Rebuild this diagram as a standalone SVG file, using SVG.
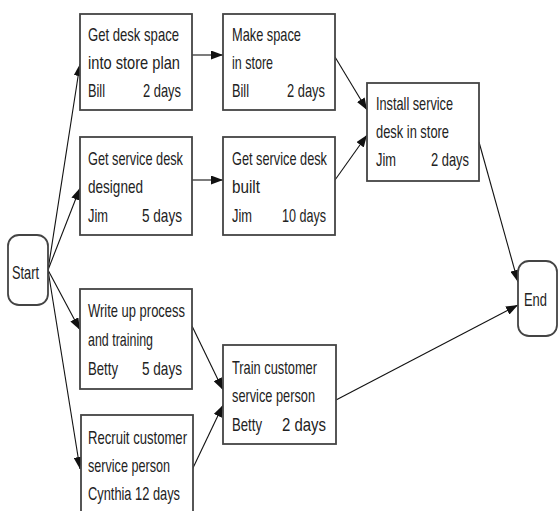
<svg xmlns="http://www.w3.org/2000/svg" width="558" height="511" viewBox="0 0 558 511">
<style>
.box{fill:#fff;stroke:#444;stroke-width:1.8}
.t{font-family:"Liberation Sans",Arial,sans-serif;font-size:19px;fill:#222}
.r{text-anchor:end}
.c{stroke:#111;stroke-width:1.1;fill:none;marker-end:url(#ah)}
</style>
<defs>
<marker id="ah" markerUnits="userSpaceOnUse" markerWidth="13" markerHeight="9" refX="12" refY="4.5" orient="auto">
<path d="M0,0 L12,4.5 L0,9 z" fill="#111"/>
</marker>
</defs>
<rect width="558" height="511" fill="#fff"/>
<g id="connectors">
<line class="c" x1="48" y1="270" x2="80" y2="64"/>
<line class="c" x1="48" y1="270" x2="80" y2="188"/>
<line class="c" x1="48" y1="270" x2="80" y2="330"/>
<line class="c" x1="48" y1="270" x2="80" y2="469"/>
<line class="c" x1="192" y1="55" x2="223" y2="55"/>
<line class="c" x1="192" y1="180" x2="223" y2="180"/>
<line class="c" x1="335" y1="57" x2="367" y2="110"/>
<line class="c" x1="335" y1="180" x2="367" y2="135"/>
<line class="c" x1="479" y1="142" x2="518" y2="282"/>
<line class="c" x1="192" y1="326" x2="223" y2="390"/>
<line class="c" x1="192" y1="470" x2="223" y2="405"/>
<line class="c" x1="336" y1="400" x2="518" y2="305"/>
</g>
<g id="start">
<rect class="box" x="8" y="235" width="40" height="70" rx="11"/>
<text class="t" x="12" y="279" textLength="27" lengthAdjust="spacingAndGlyphs">Start</text>
</g>
<g id="n1">
<rect class="box" x="80" y="14" width="112" height="96"/>
<text class="t" x="88" y="41" textLength="91" lengthAdjust="spacingAndGlyphs">Get desk space</text>
<text class="t" x="88" y="69" textLength="92" lengthAdjust="spacingAndGlyphs">into store plan</text>
<text class="t" x="88" y="97" textLength="17" lengthAdjust="spacingAndGlyphs">Bill</text>
<text class="t r" x="181" y="97" textLength="38" lengthAdjust="spacingAndGlyphs">2 days</text>
</g>
<g id="n2">
<rect class="box" x="80" y="137" width="112" height="98"/>
<text class="t" x="88" y="165" textLength="95" lengthAdjust="spacingAndGlyphs">Get service desk</text>
<text class="t" x="88" y="193" textLength="55" lengthAdjust="spacingAndGlyphs">designed</text>
<text class="t" x="88" y="222" textLength="20" lengthAdjust="spacingAndGlyphs">Jim</text>
<text class="t r" x="182" y="222" textLength="40" lengthAdjust="spacingAndGlyphs">5 days</text>
</g>
<g id="n3">
<rect class="box" x="223" y="14" width="112" height="96"/>
<text class="t" x="232" y="41" textLength="69" lengthAdjust="spacingAndGlyphs">Make space</text>
<text class="t" x="232" y="69" textLength="41" lengthAdjust="spacingAndGlyphs">in store</text>
<text class="t" x="232" y="97" textLength="17" lengthAdjust="spacingAndGlyphs">Bill</text>
<text class="t r" x="325" y="97" textLength="38" lengthAdjust="spacingAndGlyphs">2 days</text>
</g>
<g id="n4">
<rect class="box" x="223" y="137" width="112" height="98"/>
<text class="t" x="232" y="165" textLength="95" lengthAdjust="spacingAndGlyphs">Get service desk</text>
<text class="t" x="232" y="193" textLength="28" lengthAdjust="spacingAndGlyphs">built</text>
<text class="t" x="232" y="222" textLength="20" lengthAdjust="spacingAndGlyphs">Jim</text>
<text class="t r" x="326" y="222" textLength="44" lengthAdjust="spacingAndGlyphs">10 days</text>
</g>
<g id="n5">
<rect class="box" x="367" y="83" width="112" height="98"/>
<text class="t" x="376" y="110" textLength="77" lengthAdjust="spacingAndGlyphs">Install service</text>
<text class="t" x="376" y="138" textLength="73" lengthAdjust="spacingAndGlyphs">desk in store</text>
<text class="t" x="376" y="166" textLength="20" lengthAdjust="spacingAndGlyphs">Jim</text>
<text class="t r" x="469" y="166" textLength="38" lengthAdjust="spacingAndGlyphs">2 days</text>
</g>
<g id="n6">
<rect class="box" x="80" y="289" width="112" height="100"/>
<text class="t" x="88" y="317" textLength="97" lengthAdjust="spacingAndGlyphs">Write up process</text>
<text class="t" x="88" y="346" textLength="65" lengthAdjust="spacingAndGlyphs">and training</text>
<text class="t" x="88" y="375" textLength="30" lengthAdjust="spacingAndGlyphs">Betty</text>
<text class="t r" x="182" y="375" textLength="40" lengthAdjust="spacingAndGlyphs">5 days</text>
</g>
<g id="n7">
<rect class="box" x="81" y="415" width="112" height="102"/>
<text class="t" x="88" y="444" textLength="99" lengthAdjust="spacingAndGlyphs">Recruit customer</text>
<text class="t" x="88" y="472" textLength="82" lengthAdjust="spacingAndGlyphs">service person</text>
<text class="t" x="88" y="500" textLength="92" lengthAdjust="spacingAndGlyphs">Cynthia 12 days</text>
</g>
<g id="n8">
<rect class="box" x="223" y="345" width="113" height="99"/>
<text class="t" x="232" y="374" textLength="85" lengthAdjust="spacingAndGlyphs">Train customer</text>
<text class="t" x="232" y="402" textLength="83" lengthAdjust="spacingAndGlyphs">service person</text>
<text class="t" x="232" y="431" textLength="30" lengthAdjust="spacingAndGlyphs">Betty</text>
<text class="t r" x="326" y="431" textLength="44" lengthAdjust="spacingAndGlyphs">2 days</text>
</g>
<g id="end">
<rect class="box" x="518" y="261" width="39" height="75" rx="11"/>
<text class="t" x="524" y="306" textLength="23" lengthAdjust="spacingAndGlyphs">End</text>
</g>
</svg>
